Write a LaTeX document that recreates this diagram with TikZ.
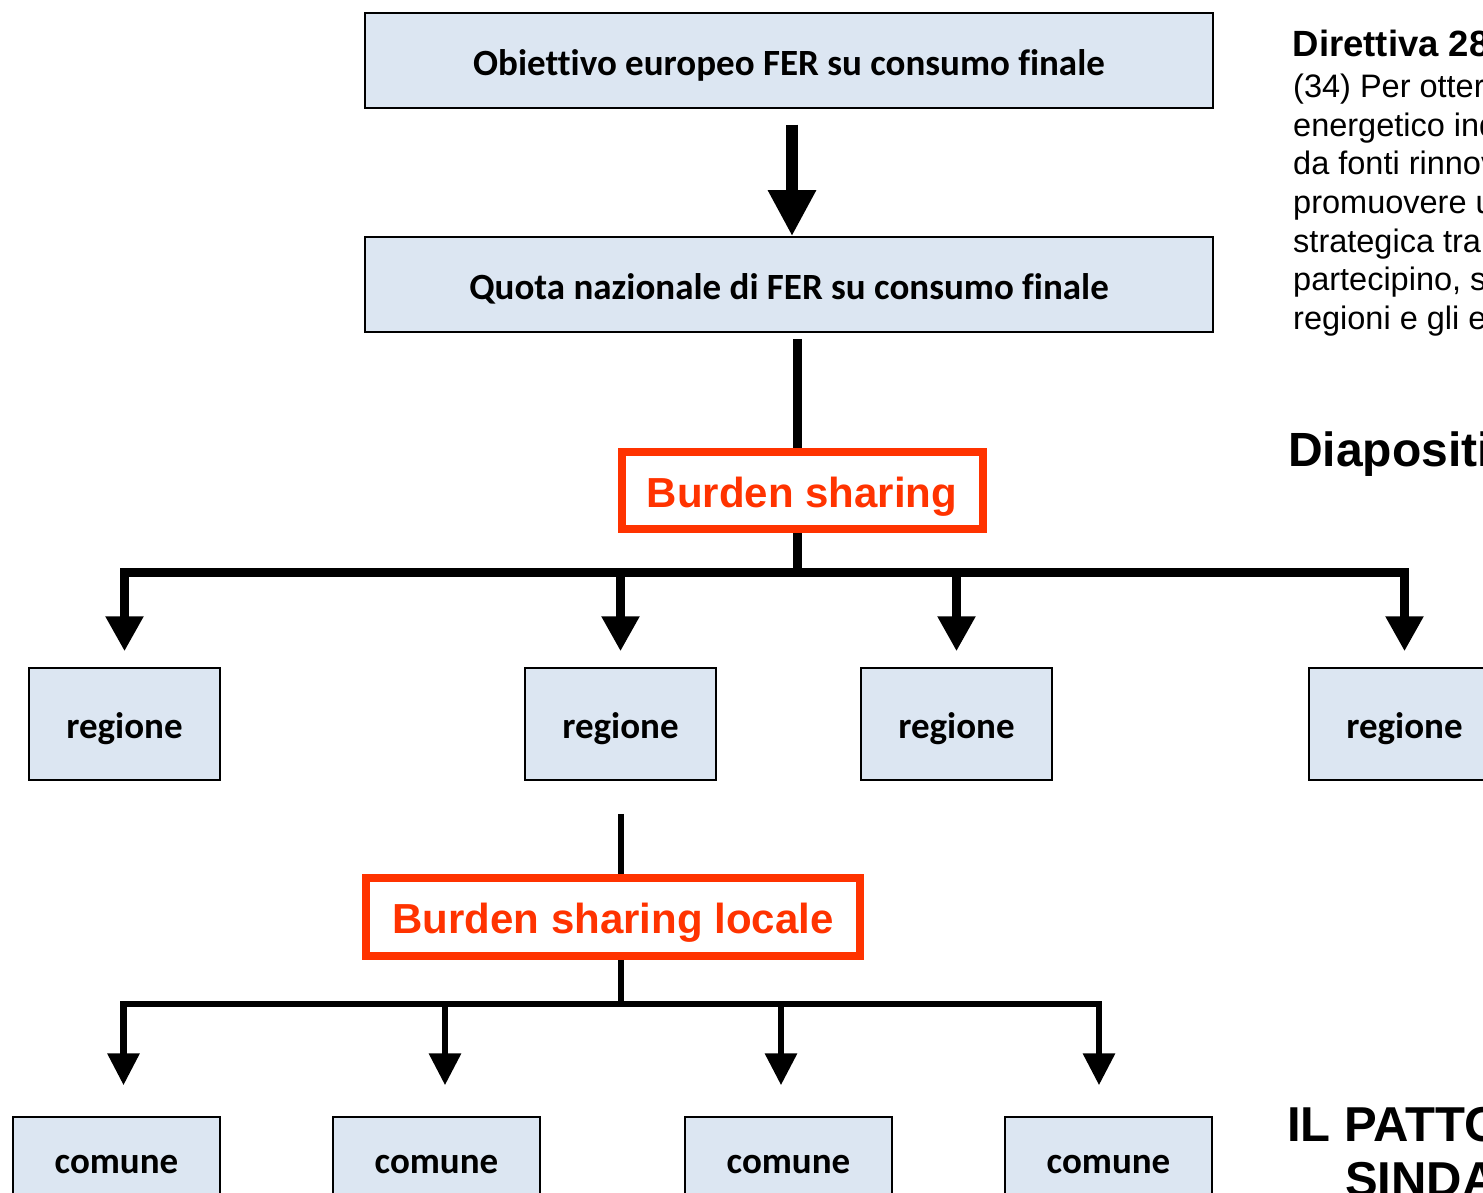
\documentclass[tikz,border=0pt]{standalone}
\usepackage{fontspec}
\setmainfont{Carlito}[Ligatures=CommonOff]
\newfontfamily\arialf{Liberation Sans}
\usetikzlibrary{arrows.meta,calc}
\definecolor{boxblue}{HTML}{DCE6F2}
\definecolor{bsred}{HTML}{FF3300}
\begin{document}
\begin{tikzpicture}[x=1pt,y=-1pt,
  bluebox/.style={draw=black,line width=1.5pt,fill=boxblue,inner sep=0pt,text height=33pt,text depth=3.8pt,font=\fontsize{37}{44}\selectfont\bfseries},
  redbox/.style={draw=bsred,line width=8pt,fill=white,inner sep=0pt,text height=35pt,text depth=2pt,text=bsred,font=\arialf\fontsize{42}{50}\selectfont\bfseries},
  topline/.style={line width=12pt,-{Triangle[width=45pt,length=46pt]}},
  lineA/.style={line width=8.5pt,line join=miter},
  arrA/.style={-{Triangle[width=36pt,length=35pt]},shorten >=16pt},
  lineB/.style={line width=6.5pt,line join=miter},
  arrB/.style={-{Triangle[width=31pt,length=32pt]},shorten >=31pt},
  righttext/.style={anchor=base west,inner sep=0pt,font=\arialf\fontsize{32.5}{38.5}\selectfont},
  bigtext/.style={anchor=base west,inner sep=0pt,font=\arialf\fontsize{48}{55}\selectfont\bfseries}
]
\useasboundingbox (0,0) rectangle (1483,1193);
\clip (0,0) rectangle (1483,1193);

% top boxes
\node[bluebox,minimum width=848pt,minimum height=95pt] (obj) at (789,60.5) {Obiettivo europeo FER su consumo finale};
\node[bluebox,minimum width=848pt,minimum height=95pt] (quota) at (789,284.5) {Quota nazionale di FER su consumo finale};
\draw[topline] ($(obj.south)+(3,16)$) -- ($(quota.north)+(3,0)$);

% burden sharing
\node[redbox,minimum width=361pt,minimum height=77.5pt] (bs1) at (802,490.5) {Burden sharing};

% regioni
\node[bluebox,minimum width=191pt,minimum height=112pt] (r1) at (124.5,724) {regione};
\node[bluebox,minimum width=191pt,minimum height=112pt] (r2) at (620.5,724) {regione};
\node[bluebox,minimum width=191pt,minimum height=112pt] (r3) at (956.5,724) {regione};
\node[bluebox,minimum width=191pt,minimum height=112pt] (r4) at (1404.5,724) {regione};

\coordinate (jb1) at (797.5,572.5);
\draw[lineA] ($(quota.south -| jb1)+(0,6)$) -- (bs1.north -| jb1);
\draw[lineA] (bs1.south -| jb1) -- (jb1);
\draw[lineA,arrA] (jb1) -| (r1.north);
\draw[lineA,arrA] (jb1) -| (r4.north);
\draw[lineA,arrA] (r2.north |- jb1) -- (r2.north);
\draw[lineA,arrA] (r3.north |- jb1) -- (r3.north);

% burden sharing locale
\node[redbox,minimum width=494pt,minimum height=78pt] (bs2) at (613,917) {Burden sharing locale};

% comuni
\node[bluebox,minimum width=207pt,minimum height=84pt] (c1) at (116.5,1159) {comune};
\node[bluebox,minimum width=207pt,minimum height=84pt] (c2) at (436.5,1159) {comune};
\node[bluebox,minimum width=207pt,minimum height=84pt] (c3) at (788.5,1159) {comune};
\node[bluebox,minimum width=207pt,minimum height=84pt] (c4) at (1108.5,1159) {comune};

\coordinate (jb2) at (621,1004);
\coordinate (k1) at (123.5,1004);
\coordinate (k2) at (445,1004);
\coordinate (k3) at (781,1004);
\coordinate (k4) at (1099,1004);
\draw[lineB] ($(r2.south -| jb2)+(0,33)$) -- (bs2.north -| jb2);
\draw[lineB] (bs2.south -| jb2) -- (jb2);
\draw[lineB,arrB] (jb2) -| (c1.north -| k1);
\draw[lineB,arrB] (jb2) -| (c4.north -| k4);
\draw[lineB,arrB] (k2) -- (c2.north -| k2);
\draw[lineB,arrB] (k3) -- (c3.north -| k3);

% right-hand texts
\node[anchor=base west,inner sep=0pt,font=\arialf\fontsize{36.5}{43}\selectfont\bfseries] (dir) at (1292.5,57) {Direttiva 28};
\node[righttext] (p1) at (1293,98) {(34) Per otter};
\node[righttext] (p2) at (1293,136.5) {energetico ind};
\node[righttext] (p3) at (1293,175) {da fonti rinnov};
\node[righttext] (p4) at (1293,213.5) {promuovere u};
\node[righttext] (p5) at (1293,252) {strategica tra};
\node[righttext] (p6) at (1293,290.5) {partecipino, s};
\node[righttext] (p7) at (1293,329) {regioni e gli e};
\node[bigtext] (dia) at (1288,466) {Diapositi};
\node[bigtext,font=\arialf\fontsize{49}{56}\selectfont\bfseries] (patto) at (1287,1141) {IL PATTO};
\node[bigtext,font=\arialf\fontsize{49}{56}\selectfont\bfseries] (sind) at (1345,1196) {SINDA};
\end{tikzpicture}
\end{document}
